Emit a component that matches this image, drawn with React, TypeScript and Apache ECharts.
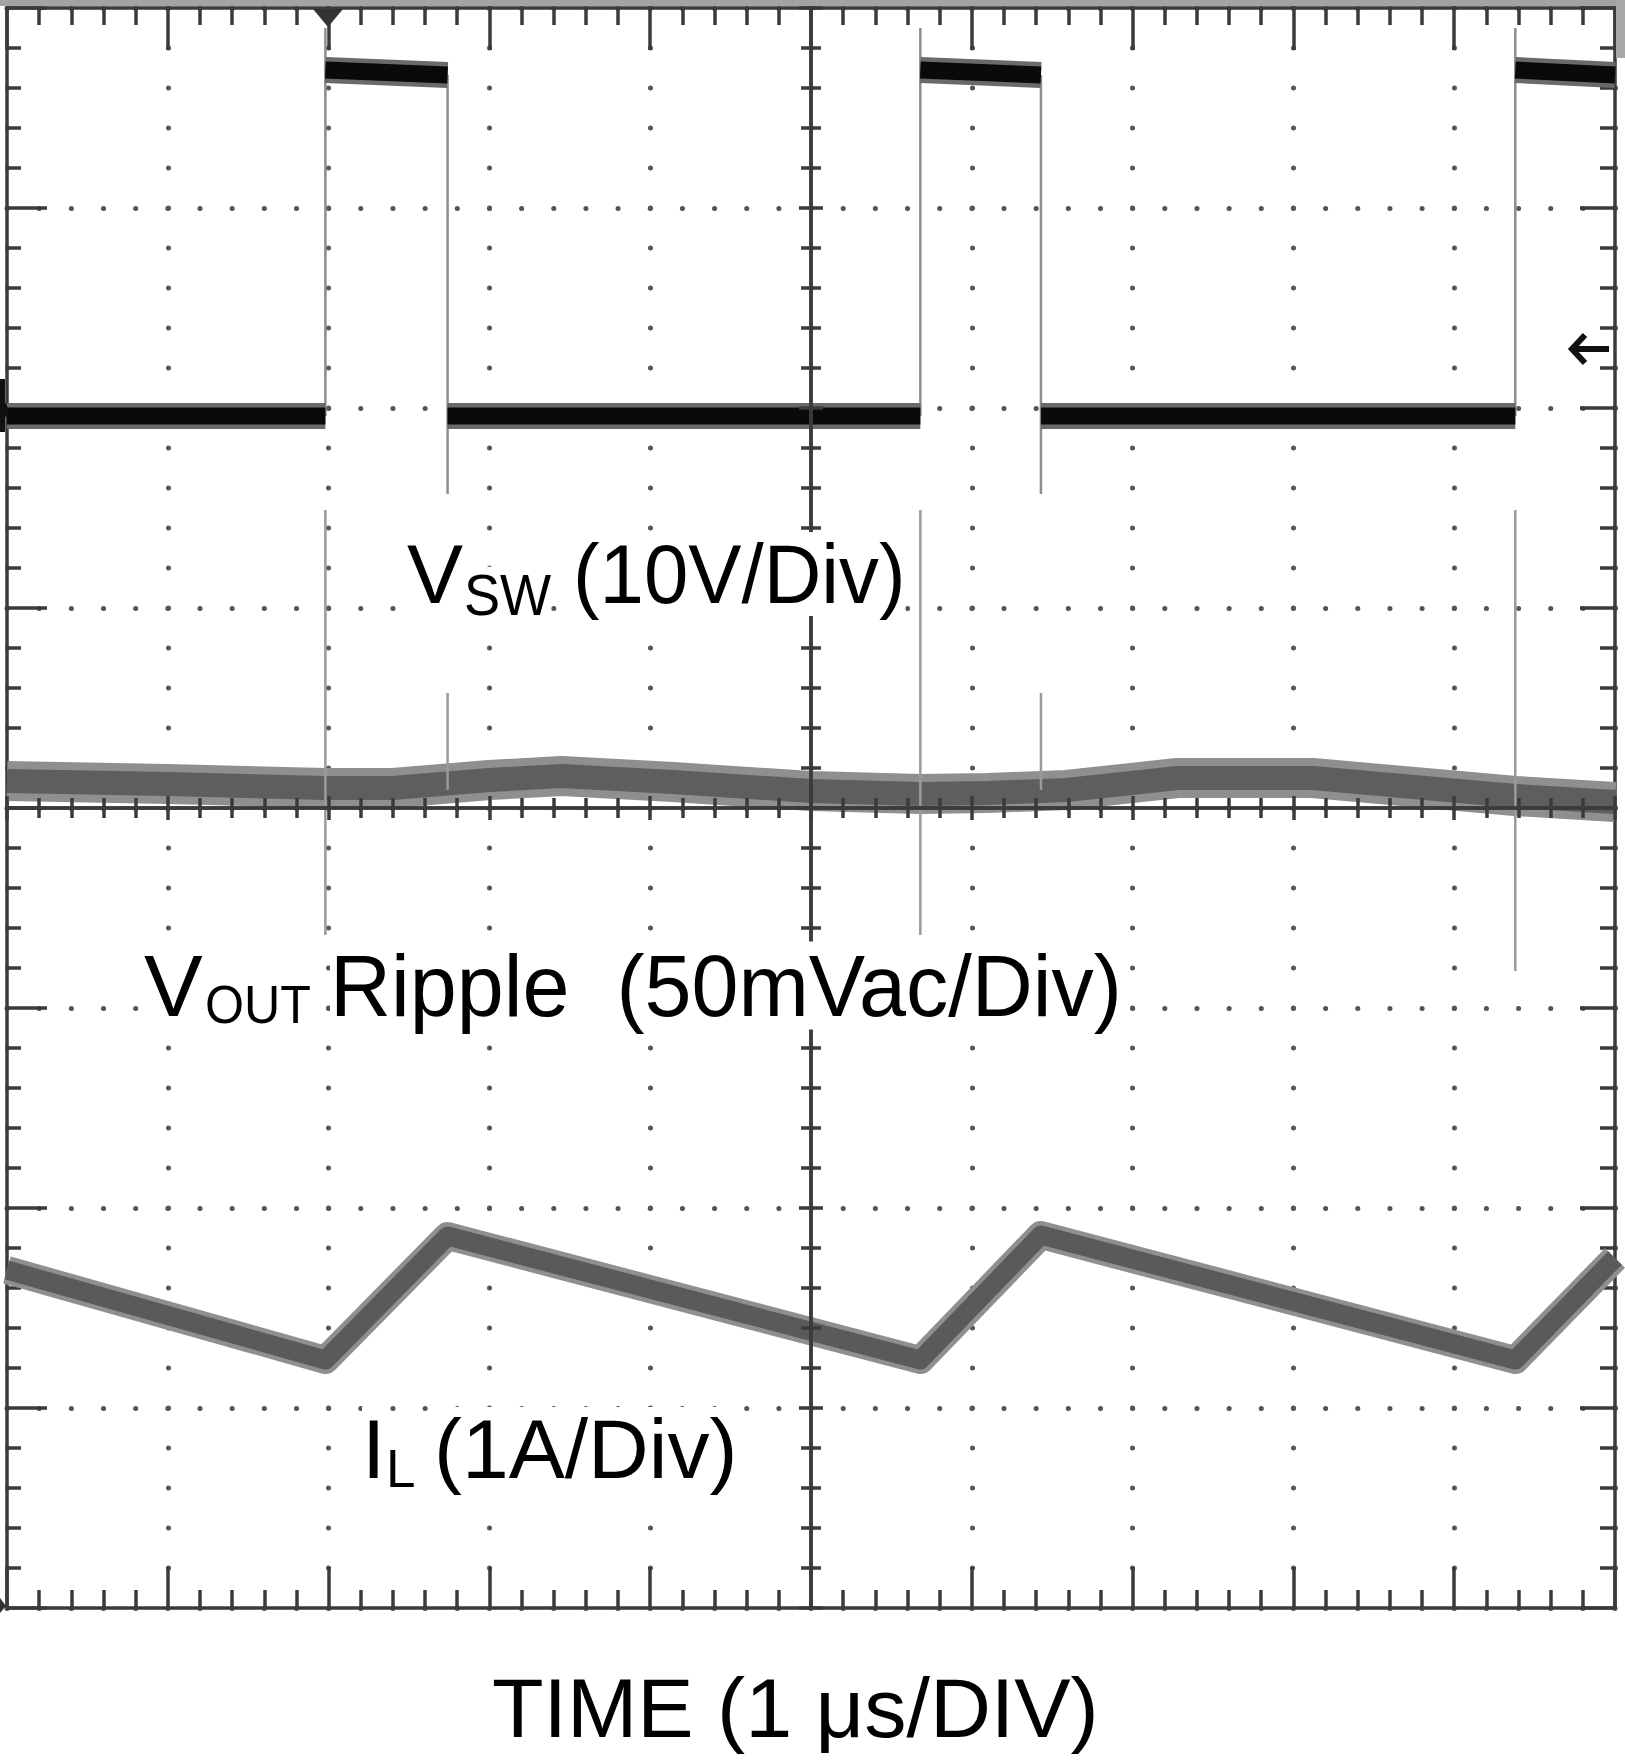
import React, { useEffect, useRef } from "react";
import * as echarts from "echarts";

// ---- Screen geometry in oscilloscope divisions ----
const X_DIVS = 10; // TIME (1 µs/DIV)
const Y_DIVS = 8;

// ---- V_SW (switch node) — times in divisions, levels in screen divisions ----
const SW_RISE_T = [1.98, 5.68, 9.38];
const SW_FALL_T = [2.74, 6.43];
const VSW_LOW = 5.96;
const VSW_HIGH_START = 7.69;
const VSW_HIGH_END = 7.665;
const VSW_RISE_PEAK = 7.9;
const VSW_FALL_DIP = 5.57;

// ---- V_OUT ripple ----
const VOUT_T = [0, 1.0, 1.98, 2.4, 3.0, 3.45, 4.14, 5.0, 5.68, 6.1, 6.59, 7.28, 8.12, 9.03, 9.38, 10];
const VOUT_V = [4.135, 4.12, 4.1, 4.1, 4.14, 4.16, 4.13, 4.085, 4.07, 4.075, 4.09, 4.15, 4.15, 4.085, 4.06, 4.03];
const VOUT_RISE_SPIKE_TOP = [5.49, 5.49, 5.49];
const VOUT_RISE_SPIKE_BOTTOM = [3.365, 3.365, 3.185];
const VOUT_FALL_SPIKE_TOP = [4.575, 4.575];
const VOUT_FALL_SPIKE_BOTTOM = [4.09, 4.09];

// ---- I_L inductor current ----
const IL_T = [0, 1.98, 2.74, 5.68, 6.43, 9.38, 10];
const IL_V = [1.69, 1.24, 1.86, 1.24, 1.865, 1.24, 1.75];

// ---- Labels ----
const LBL_VSW = ["V", "SW", "(10V/Div)"];
const LBL_VOUT = ["V", "OUT", "Ripple  (50mVac/Div)"];
const LBL_IL = ["I", "L", "(1A/Div)"];
const LBL_TIME = "TIME (1 μs/DIV)";

const FONT = "'Liberation Sans', Arial, Helvetica, sans-serif";
const DARK = "#3b3b3b";

function buildVswFlats() {
  const edges = [
    ...SW_RISE_T.map((t) => ({ t, rise: true })),
    ...SW_FALL_T.map((t) => ({ t, rise: false })),
  ].sort((a, b) => a.t - b.t);
  const out: any[] = [];
  let high = false;
  let start = 0;
  const push = (a: number, b: number) => {
    if (high) out.push([a, VSW_HIGH_START], [b, VSW_HIGH_END]);
    else out.push([a, VSW_LOW], [b, VSW_LOW]);
    out.push([b, null]);
  };
  for (const e of edges) {
    push(start, e.t);
    high = e.rise;
    start = e.t;
  }
  push(start, X_DIVS);
  return out;
}

function buildVswEdges() {
  const out: any[] = [];
  SW_RISE_T.forEach((t) => out.push([t, VSW_LOW], [t, VSW_RISE_PEAK], [t, null]));
  SW_FALL_T.forEach((t) => out.push([t, VSW_HIGH_END], [t, VSW_FALL_DIP], [t, null]));
  return out;
}

function buildVoutSpikes() {
  const out: any[] = [];
  SW_RISE_T.forEach((t, i) =>
    out.push([t, VOUT_RISE_SPIKE_TOP[i]], [t, VOUT_RISE_SPIKE_BOTTOM[i]], [t, null])
  );
  SW_FALL_T.forEach((t, i) =>
    out.push([t, VOUT_FALL_SPIKE_TOP[i]], [t, VOUT_FALL_SPIKE_BOTTOM[i]], [t, null])
  );
  return out;
}

const axisLineStyle = { color: DARK, width: 3.5 };
const tickStyle = { color: DARK, width: 3.5 };

function xAx(position: string, offset: number, inside: boolean, major: number, minor: number, extra: any = {}) {
  return {
    type: "value",
    min: 0,
    max: X_DIVS,
    interval: 1,
    position,
    offset,
    axisLine: { show: true, onZero: false, lineStyle: axisLineStyle },
    axisTick: { show: true, inside, length: major, lineStyle: tickStyle },
    minorTick: { show: true, splitNumber: 5, length: minor, lineStyle: tickStyle },
    axisLabel: { show: false },
    splitLine: { show: false },
    axisPointer: { show: false },
    ...extra,
  };
}
function yAx(position: string, offset: number, inside: boolean, major: number, minor: number, extra: any = {}) {
  return {
    type: "value",
    min: 0,
    max: Y_DIVS,
    interval: 1,
    position,
    offset,
    axisLine: { show: true, onZero: false, lineStyle: axisLineStyle },
    axisTick: { show: true, inside, length: major, lineStyle: tickStyle },
    minorTick: { show: true, splitNumber: 5, length: minor, lineStyle: tickStyle },
    axisLabel: { show: false },
    splitLine: { show: false },
    axisPointer: { show: false },
    ...extra,
  };
}

function lbl(text: string, left: number, baseline: number, size: number, sx = 1, bg = true) {
  return {
    type: "text",
    x: left,
    y: baseline - 0.3465 * size,
    scaleX: sx,
    z: 100,
    style: {
      text,
      fontSize: size,
      fontFamily: FONT,
      fill: "#000",
      align: "left",
      verticalAlign: "middle",
      backgroundColor: bg ? "#ffffff" : undefined,
    },
  };
}

export default function App() {
  const ref = useRef<HTMLDivElement>(null);
  useEffect(() => {
    document.body.style.margin = "0";
    const chart = echarts.init(ref.current!, undefined, { renderer: "svg" });

    const ripple = VOUT_T.map((t, i) => [t, VOUT_V[i]]);
    const il = IL_T.map((t, i) => [t, IL_V[i]]);

    const option: any = {
      animation: false,
      backgroundColor: "#ffffff",
      grid: { left: 7, right: 10, top: 8, bottom: 152, containLabel: false, show: false },
      xAxis: [
        xAx("bottom", 0, true, 41, 18, {
          splitLine: {
            show: true,
            lineStyle: { color: "#555", width: 5, type: [0.1, 39.9], cap: "round" },
          },
        }),
        xAx("top", 0, true, 42, 17),
        xAx("bottom", -800, true, 12, 10, { z: 5 }),
        xAx("bottom", -800, false, 12, 10, { z: 5 }),
      ],
      yAxis: [
        yAx("left", 0, true, 40, 14, {
          splitLine: {
            show: true,
            lineStyle: { color: "#555", width: 5, type: [0.1, 32.06], cap: "round" },
          },
        }),
        yAx("right", 0, true, 35, 15),
        yAx("left", -804, true, 12, 10, { z: 5 }),
        yAx("left", -804, false, 12, 10, { z: 5 }),
      ],
      series: [
        {
          type: "line", name: "VOUT fringe", data: ripple, showSymbol: false, symbol: "none",
          lineStyle: { color: "#8f8f8f", width: 40, join: "round", cap: "butt" }, z: 2, silent: true,
        },
        {
          type: "line", name: "VOUT", data: ripple, showSymbol: false, symbol: "none",
          lineStyle: { color: "#5e5e5e", width: 24, join: "round" }, z: 2, silent: true,
        },
        {
          type: "line", name: "VOUT spikes", data: buildVoutSpikes(), showSymbol: false, symbol: "none",
          connectNulls: false,
          lineStyle: { color: "#9a9a9a", width: 2.5 }, z: 2, silent: true,
        },
        {
          type: "line", name: "IL fringe", data: il, showSymbol: false, symbol: "none",
          lineStyle: { color: "#8f8f8f", width: 28, join: "round" }, z: 2, silent: true,
        },
        {
          type: "line", name: "IL", data: il, showSymbol: false, symbol: "none",
          lineStyle: { color: "#5a5a5a", width: 19, join: "round" }, z: 2, silent: true,
        },
        {
          type: "line", name: "VSW edges", data: buildVswEdges(), showSymbol: false, symbol: "none",
          connectNulls: false,
          lineStyle: { color: "#8e8e8e", width: 2.5 }, z: 3, silent: true,
        },
        {
          type: "line", name: "VSW fringe", data: buildVswFlats(), showSymbol: false, symbol: "none",
          connectNulls: false,
          lineStyle: { color: "#6a6a6a", width: 26 }, z: 3, silent: true,
        },
        {
          type: "line", name: "VSW", data: buildVswFlats(), showSymbol: false, symbol: "none",
          connectNulls: false,
          lineStyle: { color: "#0a0a0a", width: 17 }, z: 3, silent: true,
        },
      ],
      graphic: [
        { type: "rect", z: 50, shape: { x: 0, y: 0, width: 1616, height: 6 }, style: { fill: "#a3a3a3" } },
        { type: "rect", z: 50, shape: { x: 1616, y: 0, width: 9, height: 58 }, style: { fill: "#a8a8a8" } },
        // trigger position marker
        { type: "polygon", z: 50, shape: { points: [[313, 9], [343, 9], [328, 27]] }, style: { fill: "#333" } },
        // channel ground marker (left edge)
        {
          type: "polygon", z: 50,
          shape: { points: [[0, 379], [5, 379], [5, 402], [9, 410], [5, 418], [5, 432], [0, 432]] },
          style: { fill: "#111" },
        },
        { type: "polygon", z: 50, shape: { points: [[0, 1598], [6, 1606], [0, 1613]] }, style: { fill: "#333" } },
        // trigger level arrow (right edge)
        { type: "line", z: 50, shape: { x1: 1574, y1: 349, x2: 1609, y2: 349 }, style: { stroke: "#111", lineWidth: 6 } },
        {
          type: "polyline", z: 50,
          shape: { points: [[1585, 335], [1572, 349], [1585, 363]] },
          style: { stroke: "#111", lineWidth: 6, fill: null },
        },
        // labels
        lbl(LBL_VSW[0], 407, 603, 84),
        lbl(LBL_VSW[1], 464, 615, 57, 0.95),
        lbl(LBL_VSW[2], 573, 603, 84, 0.95),
        lbl(LBL_VOUT[0], 144, 1016, 88),
        lbl(LBL_VOUT[1], 205, 1023, 54, 0.93),
        lbl(LBL_VOUT[2], 330, 1016, 88, 0.96),
        lbl(LBL_IL[0], 362, 1478, 84),
        lbl(LBL_IL[1], 386, 1487, 53),
        lbl(LBL_IL[2], 434, 1478, 84, 1.0),
        lbl(LBL_TIME, 492, 1737, 84, 1.005, false),
      ],
    };
    chart.setOption(option);
    return () => chart.dispose();
  }, []);
  return <div ref={ref} style={{ width: 1625, height: 1760 }} />;
}
